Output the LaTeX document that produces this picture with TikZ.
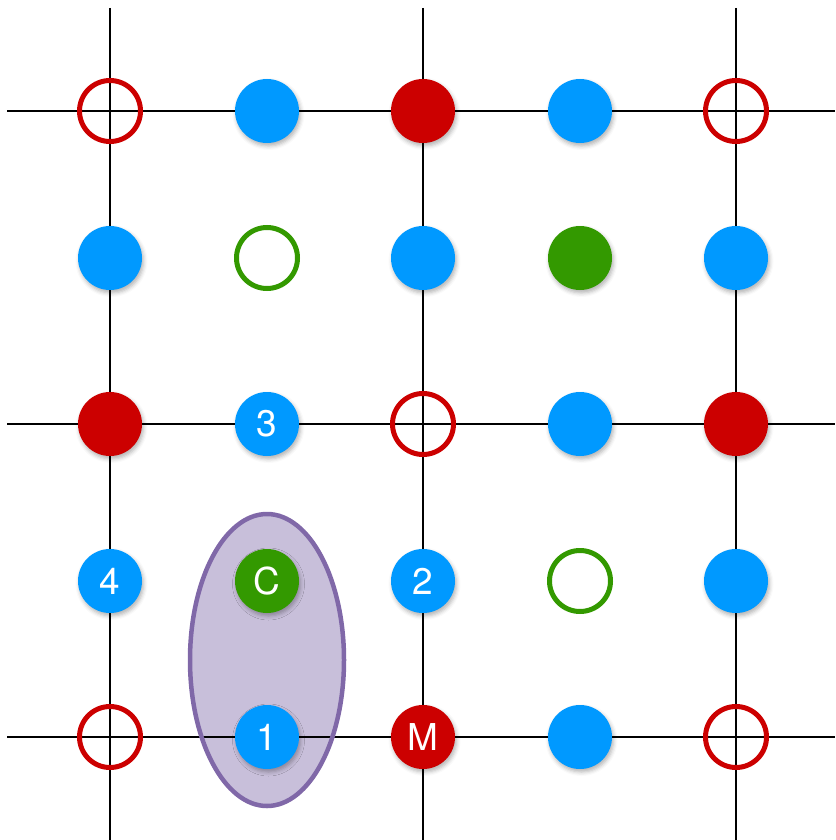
\documentclass[tikz,border=0pt]{standalone}
\usepackage{fontspec}
\setsansfont{TeX Gyre Heros}
\usetikzlibrary{shadows.blur}
\definecolor{dotblue}{HTML}{0099FF}
\definecolor{dotred}{HTML}{CC0000}
\definecolor{dotgreen}{HTML}{339900}
\definecolor{grpfill}{HTML}{C8BFDA}
\definecolor{grpedge}{HTML}{8068A8}
\tikzset{
  gridline/.style={black, line width=1.7pt},
  dot/.style={circle, minimum size=64pt, inner sep=0pt, text=white,
    font=\sffamily\fontsize{37}{37}\selectfont,
    blur shadow={shadow xshift=1.5pt, shadow yshift=-3pt, shadow blur radius=4pt, shadow opacity=30}},
  bluedot/.style={dot, fill=dotblue},
  reddot/.style={dot, fill=dotred},
  greendot/.style={dot, fill=dotgreen},
  ring/.style={circle, minimum size=61pt, inner sep=0pt, line width=5pt},
  redring/.style={ring, draw=dotred},
  greenring/.style={ring, draw=dotgreen},
  groupedge/.style={draw=grpedge, line width=4.5pt}
}
\begin{document}
\begin{tikzpicture}[x=1pt, y=-1pt]
  \useasboundingbox (0,0) rectangle (835,840);
  % grouping ellipse around C and 1
  \fill[grpfill] (267,660) ellipse [x radius=77, y radius=146];
  % grid lines
  \foreach \v in {110,423,736} {
    \draw[gridline] (\v,8) -- (\v,840);
    \draw[gridline] (7,\v+1) -- (835,\v+1);
  }
  \draw[groupedge] (267,660) ellipse [x radius=77, y radius=146];
  % row 1
  \node[redring]   (n11) at (110,111) {};
  \node[bluedot]   (n12) at (267,111) {};
  \node[reddot]    (n13) at (423,111) {};
  \node[bluedot]   (n14) at (580,111) {};
  \node[redring]   (n15) at (736,111) {};
  % row 2
  \node[bluedot]   (n21) at (110,258) {};
  \node[greenring] (n22) at (267,258) {};
  \node[bluedot]   (n23) at (423,258) {};
  \node[greendot]  (n24) at (580,258) {};
  \node[bluedot]   (n25) at (736,258) {};
  % row 3
  \node[reddot]    (n31) at (110,424) {};
  \node[bluedot]   (n32) at (267,424) {3};
  \node[redring]   (n33) at (423,424) {};
  \node[bluedot]   (n34) at (580,424) {};
  \node[reddot]    (n35) at (736,424) {};
  % row 4
  \node[bluedot]   (n41) at (110,581) {4};
  \node[greendot]  (n42) at (267,581) {C};
  \node[bluedot]   (n43) at (423,581) {2};
  \node[greenring] (n44) at (580,581) {};
  \node[bluedot]   (n45) at (736,581) {};
  % row 5
  \node[redring]   (n51) at (110,737) {};
  \node[bluedot]   (n52) at (267,737) {1};
  \node[reddot]    (n53) at (423,737) {M};
  \node[bluedot]   (n54) at (580,737) {};
  \node[redring]   (n55) at (736,737) {};
\end{tikzpicture}
\end{document}
